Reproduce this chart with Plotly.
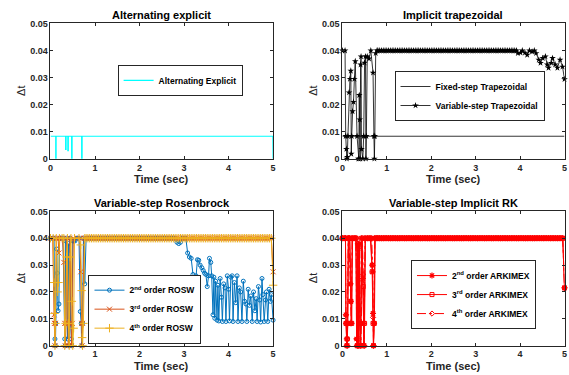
import plotly.graph_objects as go

# ---------------- data ----------------
# shared time grid for the flat (dt = 0.04) stretches of the variable-step solvers
FLAT_T = [0.80, 0.84, 0.88, 0.92, 0.96, 1.00, 1.04, 1.08, 1.12, 1.16, 1.20, 1.24, 1.28, 1.32, 1.36,
          1.40, 1.44, 1.48, 1.52, 1.56, 1.60, 1.64, 1.68, 1.72, 1.76, 1.80, 1.84, 1.88, 1.92, 1.96,
          2.00, 2.04, 2.08, 2.12, 2.16, 2.20, 2.24, 2.28, 2.32, 2.36, 2.40, 2.44, 2.48, 2.52, 2.56,
          2.60, 2.64, 2.68, 2.72, 2.76, 2.80, 2.84, 2.88, 2.92, 2.96, 3.00, 3.04, 3.08, 3.12, 3.16,
          3.20, 3.24, 3.28, 3.32, 3.36, 3.40, 3.44, 3.48, 3.52, 3.56, 3.60, 3.64, 3.68, 3.72, 3.76,
          3.80, 3.84, 3.88, 3.92, 3.96, 4.00, 4.04, 4.08, 4.12, 4.16, 4.20, 4.24, 4.28, 4.32, 4.36,
          4.40, 4.44, 4.48, 4.52, 4.56, 4.60, 4.64, 4.68, 4.72, 4.76, 4.80, 4.84, 4.88, 4.92, 4.96]
FLAT_DT = 0.04

# Alternating explicit
alt_t = [0.00, 0.118, 0.118, 0.126, 0.126, 0.34, 0.34, 0.35, 0.35, 0.39, 0.39, 0.40, 0.40,
         0.475, 0.475, 0.485, 0.485, 0.70, 0.70, 0.71, 0.71, 4.995, 5.00]
alt_dt = [0.00833, 0.00833, 0.0, 0.0, 0.00833, 0.00833, 0.0035, 0.0035, 0.00833, 0.00833, 0.003,
          0.003, 0.00833, 0.00833, 0.0, 0.0, 0.00833, 0.00833, 0.0, 0.0, 0.00833, 0.00833, 0.0]

# Implicit trapezoidal
trap_fixed_t = [0.0, 5.0]
trap_fixed_dt = [0.00833, 0.00833]
trap_early_t = [0.00, 0.06, 0.075, 0.09, 0.10, 0.11, 0.125, 0.15, 0.17, 0.19, 0.20, 0.21, 0.23, 0.25,
                0.27, 0.29, 0.33, 0.36, 0.37, 0.38, 0.39, 0.40, 0.41, 0.42, 0.43, 0.46, 0.48, 0.50,
                0.52, 0.53, 0.54, 0.56, 0.60, 0.64, 0.69, 0.71, 0.72, 0.73, 0.75, 0.78]
trap_early_dt = [0.040, 0.040, 0.0084, 0.0036, 0.0, 0.0006, 0.0084, 0.0245, 0.0295, 0.0325, 0.0018,
                 0.0084, 0.0175, 0.021, 0.0295, 0.036, 0.0084, 0.0, 0.0, 0.0235, 0.0145, 0.0, 0.0348,
                 0.0378, 0.0036, 0.0, 0.0084, 0.0355, 0.0378, 0.0, 0.0084, 0.0378, 0.037, 0.040,
                 0.0318, 0.0084, 0.0, 0.0084, 0.039, 0.040]
trap_tail_t = [3.95, 4.01, 4.05, 4.11, 4.16, 4.21, 4.27, 4.32, 4.36, 4.42, 4.46, 4.51, 4.57, 4.61,
               4.64, 4.70, 4.73, 4.79, 4.84, 4.90, 4.955, 5.00]
trap_tail_dt = [0.039, 0.0392, 0.040, 0.0392, 0.0384, 0.040, 0.0396, 0.040, 0.039, 0.0366, 0.0354,
                0.0372, 0.0378, 0.0348, 0.0336, 0.0354, 0.0372, 0.0348, 0.0336, 0.0366, 0.034, 0.0294]

# Variable-step Rosenbrock
ros2_early_t = [0.00, 0.04, 0.08, 0.10, 0.11, 0.12, 0.14, 0.15, 0.17, 0.19, 0.20, 0.22, 0.24, 0.28,
                0.32, 0.33, 0.34, 0.36, 0.38, 0.40, 0.42, 0.44, 0.45, 0.47, 0.48, 0.50, 0.52, 0.55,
                0.60, 0.64, 0.67, 0.69, 0.70, 0.72, 0.74, 0.77]
ros2_early_dt = [0.04, 0.04, 0.04, 0.0025, 0.0, 0.0083, 0.036, 0.027, 0.013, 0.0155, 0.04, 0.04,
                 0.04, 0.04, 0.0025, 0.0, 0.039, 0.04, 0.0025, 0.038, 0.0, 0.04, 0.0083, 0.0025, 0.0,
                 0.039, 0.039, 0.039, 0.04, 0.04, 0.0127, 0.0083, 0.0, 0.0083, 0.04, 0.023]
ros2_tail_t = [2.84, 2.88, 2.92, 2.96, 3.00, 3.04, 3.08, 3.12, 3.16, 3.20, 3.24, 3.27, 3.30, 3.33,
               3.36, 3.40, 3.43, 3.46, 3.49, 3.52, 3.55, 3.57, 3.60, 3.62, 3.65, 3.67, 3.69, 3.71,
               3.74, 3.76, 3.78, 3.81, 3.84, 3.86, 3.89, 3.92, 3.94, 3.97, 4.00, 4.02, 4.05, 4.08,
               4.10, 4.13, 4.16, 4.19, 4.21, 4.24, 4.27, 4.30, 4.33, 4.36, 4.39, 4.41, 4.44, 4.47,
               4.50, 4.53, 4.56, 4.59, 4.62, 4.64, 4.67, 4.70, 4.72, 4.75, 4.77, 4.80, 4.83, 4.85,
               4.88, 4.91, 4.94, 4.96, 5.00]
ros2_tail_dt = [0.0385, 0.038, 0.0385, 0.04, 0.04, 0.04, 0.0345, 0.033, 0.0325, 0.0265, 0.024,
                0.026, 0.032, 0.0318, 0.030, 0.029, 0.028, 0.027, 0.0265, 0.022, 0.026, 0.0325,
                0.031, 0.026, 0.0115, 0.0255, 0.0102, 0.024, 0.0095, 0.0225, 0.0092, 0.025, 0.018,
                0.009, 0.023, 0.0215, 0.009, 0.026, 0.021, 0.0092, 0.0255, 0.026, 0.009, 0.0235,
                0.016, 0.026, 0.009, 0.0215, 0.020, 0.009, 0.024, 0.0165, 0.0155, 0.009, 0.021,
                0.015, 0.0185, 0.009, 0.020, 0.013, 0.0175, 0.009, 0.022, 0.017, 0.0088, 0.025,
                0.019, 0.009, 0.017, 0.020, 0.009, 0.021, 0.0165, 0.019, 0.0095]

ros3_early_t = [0.00, 0.05, 0.08, 0.09, 0.10, 0.11, 0.13, 0.17, 0.19, 0.21, 0.27, 0.30, 0.32, 0.33,
                0.35, 0.37, 0.40, 0.42, 0.44, 0.47, 0.49, 0.51, 0.60, 0.66, 0.68, 0.70, 0.71, 0.72,
                0.76]
ros3_early_dt = [0.04, 0.04, 0.0115, 0.0083, 0.0, 0.0083, 0.04, 0.04, 0.0345, 0.04, 0.04, 0.031,
                 0.0083, 0.0, 0.0083, 0.04, 0.0, 0.0083, 0.04, 0.0, 0.0083, 0.04, 0.04, 0.04,
                 0.0275, 0.0083, 0.0, 0.0083, 0.04]
ros3_end_t = [5.00]
ros3_end_dt = [0.0275]

ros4_early_t = [0.00, 0.06, 0.08, 0.09, 0.10, 0.11, 0.13, 0.16, 0.18, 0.20, 0.26, 0.30, 0.32, 0.34,
                0.36, 0.38, 0.40, 0.42, 0.44, 0.46, 0.48, 0.50, 0.52, 0.54, 0.64, 0.68, 0.70, 0.71,
                0.72, 0.74, 0.77]
ros4_early_dt = [0.04, 0.04, 0.0235, 0.012, 0.0, 0.0083, 0.04, 0.020, 0.0235, 0.04, 0.04, 0.04,
                 0.0, 0.0083, 0.033, 0.04, 0.0083, 0.0, 0.033, 0.04, 0.0165, 0.0, 0.0065, 0.04,
                 0.04, 0.0375, 0.0205, 0.003, 0.0, 0.0083, 0.04]
ros4_end_t = [5.00]
ros4_end_dt = [0.0225]

# Variable-step implicit RK (ARKIMEX)
ark2_early_t = [0.00, 0.04, 0.07, 0.08, 0.09, 0.10, 0.11, 0.12, 0.13, 0.16, 0.18, 0.19, 0.20, 0.22,
                0.26, 0.30, 0.32, 0.34, 0.35, 0.37, 0.38, 0.40, 0.41, 0.43, 0.46, 0.48, 0.49, 0.51,
                0.56, 0.60, 0.64, 0.67, 0.68, 0.69, 0.70, 0.71, 0.73, 0.76]
ark2_early_dt = [0.04, 0.04, 0.04, 0.0115, 0.0083, 0.0025, 0.0, 0.0083, 0.04, 0.04, 0.023, 0.0165,
                 0.0083, 0.04, 0.04, 0.04, 0.0025, 0.0, 0.0375, 0.0, 0.038, 0.0083, 0.0, 0.04,
                 0.025, 0.0083, 0.0, 0.04, 0.04, 0.04, 0.04, 0.030, 0.0275, 0.012, 0.0, 0.0083,
                 0.04, 0.04]
ark3_early_t = [0.00, 0.05, 0.07, 0.08, 0.10, 0.11, 0.12, 0.14, 0.17, 0.19, 0.21, 0.23, 0.28, 0.31,
                0.33, 0.35, 0.36, 0.38, 0.39, 0.41, 0.42, 0.44, 0.47, 0.48, 0.50, 0.52, 0.58, 0.63,
                0.67, 0.69, 0.70, 0.72, 0.74, 0.77]
ark3_early_dt = [0.04, 0.04, 0.04, 0.0083, 0.0, 0.0025, 0.0083, 0.04, 0.04, 0.0165, 0.0083, 0.04,
                 0.04, 0.04, 0.0, 0.036, 0.0025, 0.037, 0.0083, 0.0, 0.0083, 0.04, 0.022, 0.0,
                 0.0083, 0.04, 0.04, 0.04, 0.0275, 0.0083, 0.0, 0.0083, 0.04, 0.04]
ark4_early_t = [0.00, 0.06, 0.07, 0.08, 0.09, 0.10, 0.11, 0.13, 0.15, 0.18, 0.19, 0.20, 0.22, 0.27,
                0.31, 0.32, 0.33, 0.35, 0.37, 0.39, 0.40, 0.42, 0.45, 0.47, 0.49, 0.51, 0.57, 0.62,
                0.66, 0.68, 0.69, 0.70, 0.71, 0.73, 0.78]
ark4_early_dt = [0.04, 0.04, 0.04, 0.0115, 0.0083, 0.0, 0.0025, 0.04, 0.04, 0.023, 0.0083, 0.0083,
                 0.04, 0.04, 0.04, 0.0025, 0.0, 0.038, 0.0, 0.0375, 0.0083, 0.0, 0.04, 0.0265,
                 0.0, 0.04, 0.04, 0.04, 0.04, 0.030, 0.0105, 0.0, 0.0083, 0.04, 0.04]
ark_end_t = [5.00]
ark_end_dt = [0.0215]

X_TICKS = [0, 1, 2, 3, 4, 5]
Y_TICKS = [0, 0.01, 0.02, 0.03, 0.04, 0.05]

TITLES = ["Alternating explicit", "Implicit trapezoidal",
          "Variable-step Rosenbrock", "Variable-step Implicit RK"]


def flat_until(t_end, t_start=0.0):
    ts = [t for t in FLAT_T if t_start <= t <= t_end + 1e-9]
    return ts, [FLAT_DT] * len(ts)


# ---------------- figure ----------------
FONT = "Liberation Sans, Arial, Helvetica, sans-serif"
AXC = "#262626"
W, H = 569, 375

fig = go.Figure()

# panel geometry in pixels (left, right, top, bottom)
PANELS = [(48, 273, 19, 158), (343, 567.5, 19, 158),
          (48, 273, 212, 350), (343, 567.5, 212, 350)]

axis_ids = [("x", "y"), ("x2", "y2"), ("x3", "y3"), ("x4", "y4")]

for i, (l, r, t, b) in enumerate(PANELS):
    xa = "xaxis" if i == 0 else f"xaxis{i+1}"
    ya = "yaxis" if i == 0 else f"yaxis{i+1}"
    common = dict(showgrid=False, zeroline=False, showline=True, linecolor=AXC, linewidth=1,
                  mirror="ticks", ticks="inside", ticklen=3, tickwidth=1, tickcolor=AXC,
                  tickfont=dict(family=FONT, size=9, color=AXC, weight="bold"))
    fig.layout[xa] = dict(domain=[l / W, r / W], range=[0, 5], tickvals=X_TICKS,
                          anchor=axis_ids[i][1], **common)
    fig.layout[ya] = dict(domain=[1 - b / H, 1 - t / H], range=[0, 0.05], tickvals=Y_TICKS,
                          ticktext=["0", "0.01", "0.02", "0.03", "0.04", "0.05"],
                          anchor=axis_ids[i][0], **common)
    # title
    fig.add_annotation(text=TITLES[i], x=(l + r) / 2 / W, y=1 - (t - 9) / H, xref="paper",
                       yref="paper", showarrow=False, xanchor="center", yanchor="middle",
                       font=dict(family=FONT, size=11, color="#000", weight="bold"))
    # x title
    fig.add_annotation(text="Time (sec)", x=(l + r) / 2 / W, y=1 - (b + 20.5) / H, xref="paper",
                       yref="paper", showarrow=False, xanchor="center", yanchor="middle",
                       font=dict(family=FONT, size=11, color=AXC, weight="bold"))
    # y title
    fig.add_annotation(text="Δt", x=(l - 30) / W, y=1 - (t + b) / 2 / H, xref="paper",
                       yref="paper", showarrow=False, xanchor="center", yanchor="middle",
                       textangle=-90, font=dict(family=FONT, size=11, color=AXC))

# --- panel 1
fig.add_trace(go.Scatter(x=alt_t, y=alt_dt, mode="lines", name="Alternating Explicit",
                         line=dict(color="#00FFFF", width=1.2), xaxis="x", yaxis="y",
                         legend="legend"))

# --- panel 2
fig.add_trace(go.Scatter(x=trap_fixed_t, y=trap_fixed_dt, mode="lines",
                         name="Fixed-step Trapezoidal", line=dict(color="#000", width=0.8),
                         xaxis="x2", yaxis="y2", legend="legend2"))
ft, fd = flat_until(3.92)
fig.add_trace(go.Scatter(x=trap_early_t + ft + trap_tail_t, y=trap_early_dt + fd + trap_tail_dt,
                         mode="lines+markers", name="Variable-step Trapezoidal",
                         line=dict(color="#000", width=0.8),
                         marker=dict(symbol="star", size=5, color="#000"),
                         xaxis="x2", yaxis="y2", legend="legend2", cliponaxis=False))

# --- panel 3
ft, fd = flat_until(2.80)
fig.add_trace(go.Scatter(x=ros2_early_t + ft + ros2_tail_t, y=ros2_early_dt + fd + ros2_tail_dt,
                         mode="lines+markers", name="2<sup>nd</sup> order ROSW",
                         line=dict(color="#0072BD", width=1),
                         marker=dict(symbol="circle-open", size=4, color="#0072BD",
                                     line=dict(width=1)),
                         xaxis="x3", yaxis="y3", legend="legend3", cliponaxis=False))
ft, fd = flat_until(4.96)
fig.add_trace(go.Scatter(x=ros3_early_t + ft + ros3_end_t, y=ros3_early_dt + fd + ros3_end_dt,
                         mode="lines+markers", name="3<sup>rd</sup> order ROSW",
                         line=dict(color="#D95319", width=1),
                         marker=dict(symbol="x-thin-open", size=5, color="#D95319",
                                     line=dict(width=1, color="#D95319")),
                         xaxis="x3", yaxis="y3", legend="legend3", cliponaxis=False))
fig.add_trace(go.Scatter(x=ros4_early_t + ft + ros4_end_t, y=ros4_early_dt + fd + ros4_end_dt,
                         mode="lines+markers", name="4<sup>th</sup> order ROSW",
                         line=dict(color="#EDB120", width=1),
                         marker=dict(symbol="cross-thin-open", size=6, color="#EDB120",
                                     line=dict(width=1, color="#EDB120")),
                         xaxis="x3", yaxis="y3", legend="legend3", cliponaxis=False))

# --- panel 4
fig.add_trace(go.Scatter(x=ark2_early_t + ft + ark_end_t, y=ark2_early_dt + fd + ark_end_dt,
                         mode="lines+markers", name="2<sup>nd</sup> order ARKIMEX",
                         line=dict(color="#FF0000", width=1),
                         marker=dict(symbol="asterisk-open", size=5, color="#FF0000",
                                     line=dict(width=1.2, color="#FF0000")),
                         xaxis="x4", yaxis="y4", legend="legend4", cliponaxis=False))
fig.add_trace(go.Scatter(x=ark3_early_t + ft + ark_end_t, y=ark3_early_dt + fd + ark_end_dt,
                         mode="lines+markers", name="3<sup>rd</sup> order ARKIMEX",
                         line=dict(color="#FF0000", width=1),
                         marker=dict(symbol="square-open", size=4, color="#FF0000",
                                     line=dict(width=1, color="#FF0000")),
                         xaxis="x4", yaxis="y4", legend="legend4", cliponaxis=False))
fig.add_trace(go.Scatter(x=ark4_early_t + ft + ark_end_t, y=ark4_early_dt + fd + ark_end_dt,
                         mode="lines+markers", name="4<sup>th</sup> order ARKIMEX",
                         line=dict(color="#FF0000", width=1, dash="dashdot"),
                         marker=dict(symbol="diamond-open", size=4, color="#FF0000",
                                     line=dict(width=1, color="#FF0000")),
                         xaxis="x4", yaxis="y4", legend="legend4", cliponaxis=False))

leg_common = dict(bgcolor="#FFFFFF", bordercolor=AXC, borderwidth=1, itemwidth=30,
                  font=dict(family=FONT, size=8.5, color="#000", weight="bold"),
                  xanchor="center", yanchor="middle", tracegroupgap=0)

fig.update_layout(
    width=W, height=H, margin=dict(l=0, r=0, t=0, b=0),
    paper_bgcolor="#FFFFFF", plot_bgcolor="#FFFFFF",
    showlegend=True,
    legend=dict(x=179 / W, y=1 - 77.5 / H, **leg_common),
    legend2=dict(x=471.5 / W, y=1 - 93.5 / H, **leg_common),
    legend3=dict(x=143.5 / W, y=1 - 312.5 / H, **leg_common),
    legend4=dict(x=475.5 / W, y=1 - 297.5 / H, **leg_common),
)

fig.write_html("out.html")
